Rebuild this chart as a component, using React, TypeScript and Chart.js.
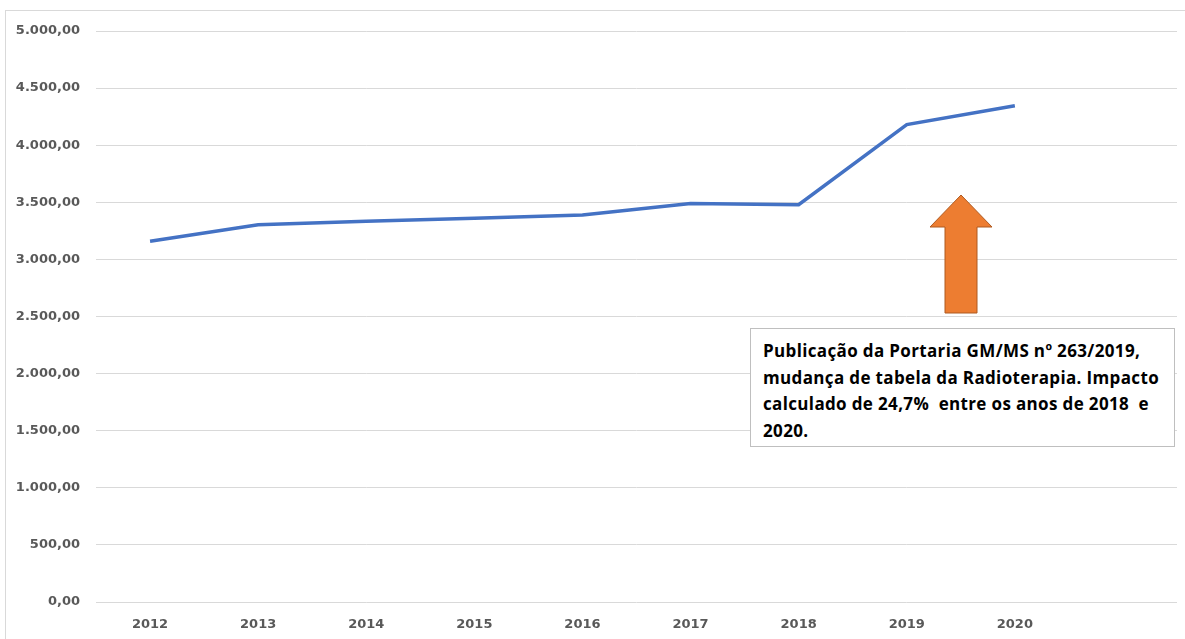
import React, { useEffect, useRef } from "react";
import { Chart, registerables } from "chart.js";

Chart.register(...registerables);

const categories: string[] = ["2012", "2013", "2014", "2015", "2016", "2017", "2018", "2019", "2020", ""];
const seriesValues: (number | null)[] = [3159, 3303, 3333, 3360, 3388, 3490, 3479, 4180, 4345, null];
const yMin = 0;
const yMax = 5000;
const yStep = 500;
const annotationLines: string[] = [
  "Publicação da Portaria GM/MS nº 263/2019,",
  "mudança de tabela da Radioterapia. Impacto",
  "calculado de 24,7%  entre os anos de 2018  e",
  "2020.",
];

function formatBR(v: number): string {
  const fixed = Math.abs(v).toFixed(2);
  const [intPart, dec] = fixed.split(".");
  const withDots = intPart.replace(/\B(?=(\d{3})+(?!\d))/g, ".");
  return (v < 0 ? "-" : "") + withDots + "," + dec;
}

export default function App() {
  const canvasRef = useRef<HTMLCanvasElement | null>(null);

  useEffect(() => {
    document.body.style.margin = "0";
    const ctx = canvasRef.current;
    if (!ctx) return;
    const chart = new Chart(ctx, {
      type: "line",
      data: {
        labels: categories,
        datasets: [
          {
            data: seriesValues,
            borderColor: "#4472C4",
            borderWidth: 3.5,
            pointRadius: 0,
            tension: 0,
            fill: false,
          },
        ],
      },
      options: {
        animation: false,
        responsive: false,
        layout: { padding: { left: 0, right: 8, top: 31, bottom: 0 } },
        plugins: { legend: { display: false }, tooltip: { enabled: false } },
        scales: {
          x: {
            offset: true,
            grid: { display: false, drawTicks: false },
            border: { display: false },
            ticks: {
              padding: 15,
              color: "#595959",
              font: { family: "DejaVu Sans", size: 13, weight: "bold" },
              maxRotation: 0,
              autoSkip: false,
            },
            afterFit: (s: any) => {
              s.height = 37;
            },
          },
          y: {
            min: yMin,
            max: yMax,
            grid: { color: "#d9d9d9", lineWidth: 1, drawTicks: false },
            border: { display: false },
            ticks: {
              stepSize: yStep,
              padding: 16,
              color: "#595959",
              font: { family: "DejaVu Sans", size: 13, weight: "bold" },
              callback: (v: any) => formatBR(Number(v)),
            },
            afterFit: (s: any) => {
              s.width = 96;
            },
          },
        },
      },
    });
    return () => chart.destroy();
  }, []);

  return (
    <div style={{ position: "fixed", left: 0, top: 0, width: 1185, height: 639, background: "#fff", overflow: "hidden" }}>
      <div
        style={{
          position: "absolute",
          left: 5,
          top: 10,
          width: 1200,
          height: 700,
          border: "1px solid #d9d9d9",
          boxSizing: "border-box",
        }}
      />
      <canvas ref={canvasRef} width={1185} height={639} style={{ position: "absolute", left: 0, top: 0, width: 1185, height: 639 }} />
      <svg style={{ position: "absolute", left: 0, top: 0 }} width={1185} height={639}>
        <polygon
          points="961,195 992,227 977,227 977,313 945,313 945,227 930,227"
          fill="#ED7D31"
          stroke="#AE5A21"
          strokeWidth={1}
        />
      </svg>
      <div
        style={{
          position: "absolute",
          left: 750,
          top: 328,
          width: 425,
          height: 119,
          boxSizing: "border-box",
          border: "1px solid #bfbfbf",
          background: "#fff",
          padding: "9px 0 0 12px",
          fontFamily: "'Open Sans', sans-serif",
          fontWeight: 700,
          fontSize: 17,
          letterSpacing: "0.35px",
          lineHeight: "26.5px",
          color: "#000",
          whiteSpace: "pre",
        }}
      >
        {annotationLines.join("\n")}
      </div>
    </div>
  );
}
